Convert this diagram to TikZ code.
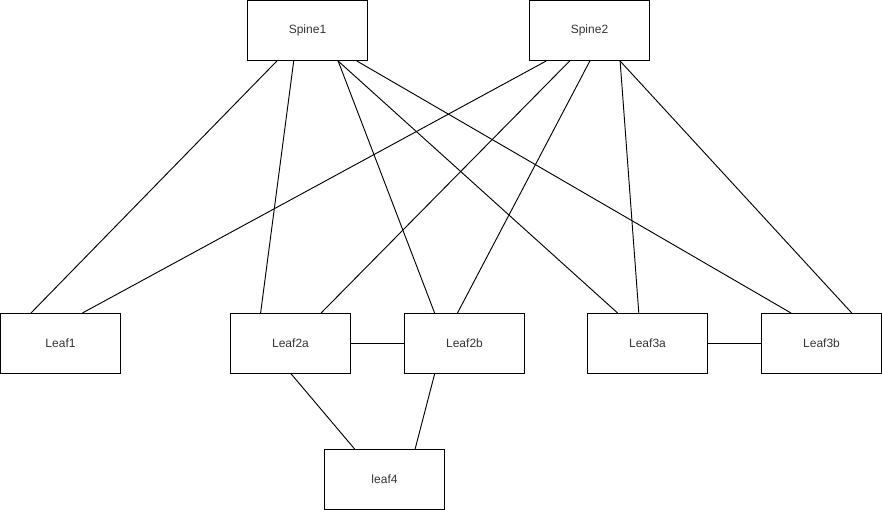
\documentclass[tikz,border=0pt]{standalone}
\usepackage{fontspec}
\setmainfont{Liberation Sans}
\usetikzlibrary{calc}
\tikzset{
  box/.style={draw=black, line width=0.75pt, minimum width=90pt, minimum height=45pt, inner sep=0pt, font=\fontsize{9}{11}\selectfont, text=black!80},
  link/.style={draw=black, line width=0.7pt}
}
\newcommand{\atbot}[2]{($(#1.south west)!#2!(#1.south east)$)}
\newcommand{\attop}[2]{($(#1.north west)!#2!(#1.north east)$)}
\begin{document}
\begin{tikzpicture}[x=0.75pt,y=-0.75pt]
\useasboundingbox (0,0) rectangle (882,510);
\node[box] (s1) at (307.5,30.5) {Spine1};
\node[box] (s2) at (589.5,30.5) {Spine2};
\node[box] (l1) at (60.5,343.5) {Leaf1};
\node[box] (l2a) at (290.5,343.5) {Leaf2a};
\node[box] (l2b) at (464.5,343.5) {Leaf2b};
\node[box] (l3a) at (647.5,343.5) {Leaf3a};
\node[box] (l3b) at (821.5,343.5) {Leaf3b};
\node[box] (l4) at (384.5,479.5) {leaf4};
% Spine1 links
\draw[link] \atbot{s1}{0.247} -- \attop{l1}{0.256};
\draw[link] \atbot{s1}{0.386} -- \attop{l2a}{0.253};
\draw[link] \atbot{s1}{0.753} -- \attop{l2b}{0.253};
\draw[link] \atbot{s1}{0.753} -- \attop{l3a}{0.253};
\draw[link] \atbot{s1}{0.908} -- \attop{l3b}{0.248};
% Spine2 links
\draw[link] \atbot{s2}{0.142} -- \attop{l1}{0.681};
\draw[link] \atbot{s2}{0.336} -- \attop{l2a}{0.753};
\draw[link] \atbot{s2}{0.503} -- \attop{l2b}{0.442};
\draw[link] \atbot{s2}{0.753} -- \attop{l3a}{0.428};
\draw[link] \atbot{s2}{0.753} -- \attop{l3b}{0.75};
% peer links
\draw[link] (l2a.east) -- (l2b.west);
\draw[link] (l3a.east) -- (l3b.west);
% leaf4
\draw[link] \atbot{l2a}{0.506} -- \attop{l4}{0.253};
\draw[link] \atbot{l2b}{0.253} -- \attop{l4}{0.753};
\end{tikzpicture}
\end{document}
